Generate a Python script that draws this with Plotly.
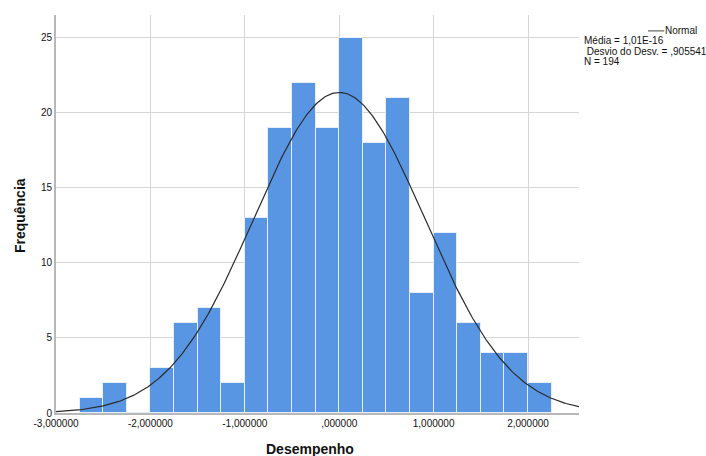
import numpy as np
import plotly.graph_objects as go

# Histogram of Desempenho (bin width 0.25 starting at -2.75)
bin_start = -2.75
bin_width = 0.25
counts = [1, 2, 0, 3, 6, 7, 2, 13, 19, 22, 19, 25, 18, 21, 8, 12, 6, 4, 4, 2]

# Summary statistics shown in the legend
mean = 1.01e-16
sd = 0.905541
n = 194

x_tickvals = [-3, -2, -1, 0, 1, 2]
x_ticktext = ["-3,000000", "-2,000000", "-1,000000", ",000000", "1,000000", "2,000000"]
y_tickvals = [0, 5, 10, 15, 20, 25]

centers = [bin_start + bin_width * (i + 0.5) for i in range(len(counts))]

# Fitted normal curve scaled to the frequency axis
xs = np.linspace(-3.0, 2.54, 400)
ys = n * bin_width / (sd * np.sqrt(2 * np.pi)) * np.exp(-0.5 * ((xs - mean) / sd) ** 2)

fig = go.Figure()
fig.add_trace(go.Bar(
    x=centers, y=counts, width=bin_width,
    marker=dict(color="#5896e3", line=dict(color="#e6eefa", width=1)),
    showlegend=False, hoverinfo="x+y",
))
fig.add_trace(go.Scatter(
    x=xs, y=ys, mode="lines",
    line=dict(color="#2b2b2b", width=1.2),
    showlegend=False,
))

font = "Liberation Sans, Arial, sans-serif"
fig.update_layout(
    width=706, height=456,
    margin=dict(l=56, r=127, t=15, b=43),
    paper_bgcolor="white", plot_bgcolor="white",
    font=dict(family=font, color="#111111", size=10),
    bargap=0,
    xaxis=dict(
        range=[-3.0, 2.54], tickvals=x_tickvals, ticktext=x_ticktext,
        showgrid=True, gridcolor="#d6d6d6", gridwidth=1,
        showline=True, linecolor="#b8b8b8", linewidth=2,
        zeroline=False, ticks="", tickfont=dict(size=10, family=font),
        automargin=False,
    ),
    yaxis=dict(
        range=[0, 26.53], tickvals=y_tickvals,
        showgrid=True, gridcolor="#d6d6d6", gridwidth=1,
        showline=True, linecolor="#b8b8b8", linewidth=2,
        zeroline=False, ticks="", tickfont=dict(size=10, family=font),
        automargin=False,
    ),
)

# Axis titles
fig.add_annotation(xref="paper", yref="paper", x=0.486, y=-0.0655,
                   text="<b>Desempenho</b>", showarrow=False,
                   xanchor="center", yanchor="top",
                   font=dict(size=14, family=font))
fig.add_annotation(xref="paper", yref="paper", x=-0.069, y=0.497,
                   text="<b>Frequência</b>", showarrow=False, textangle=-90,
                   xanchor="center", yanchor="middle",
                   font=dict(size=14, family=font))

# Legend block at the upper right
fig.add_shape(type="line", xref="paper", yref="paper",
              x0=1.132, x1=1.163, y0=0.96, y1=0.96,
              line=dict(color="#444444", width=1))
fig.add_annotation(xref="paper", yref="paper", x=1.160, y=0.96, text="Normal",
                   showarrow=False, xanchor="left", yanchor="middle",
                   font=dict(size=10, family=font))
legend_lines = ["Média = 1,01E-16", "&nbsp;Desvio do Desv. = ,905541", "N = 194"]
for i, t in enumerate(legend_lines):
    fig.add_annotation(xref="paper", yref="paper", x=1.006, y=0.935 - i * 0.0262,
                       text=t, showarrow=False, xanchor="left", yanchor="middle",
                       font=dict(size=10, family=font))

fig.write_html("out.html")
